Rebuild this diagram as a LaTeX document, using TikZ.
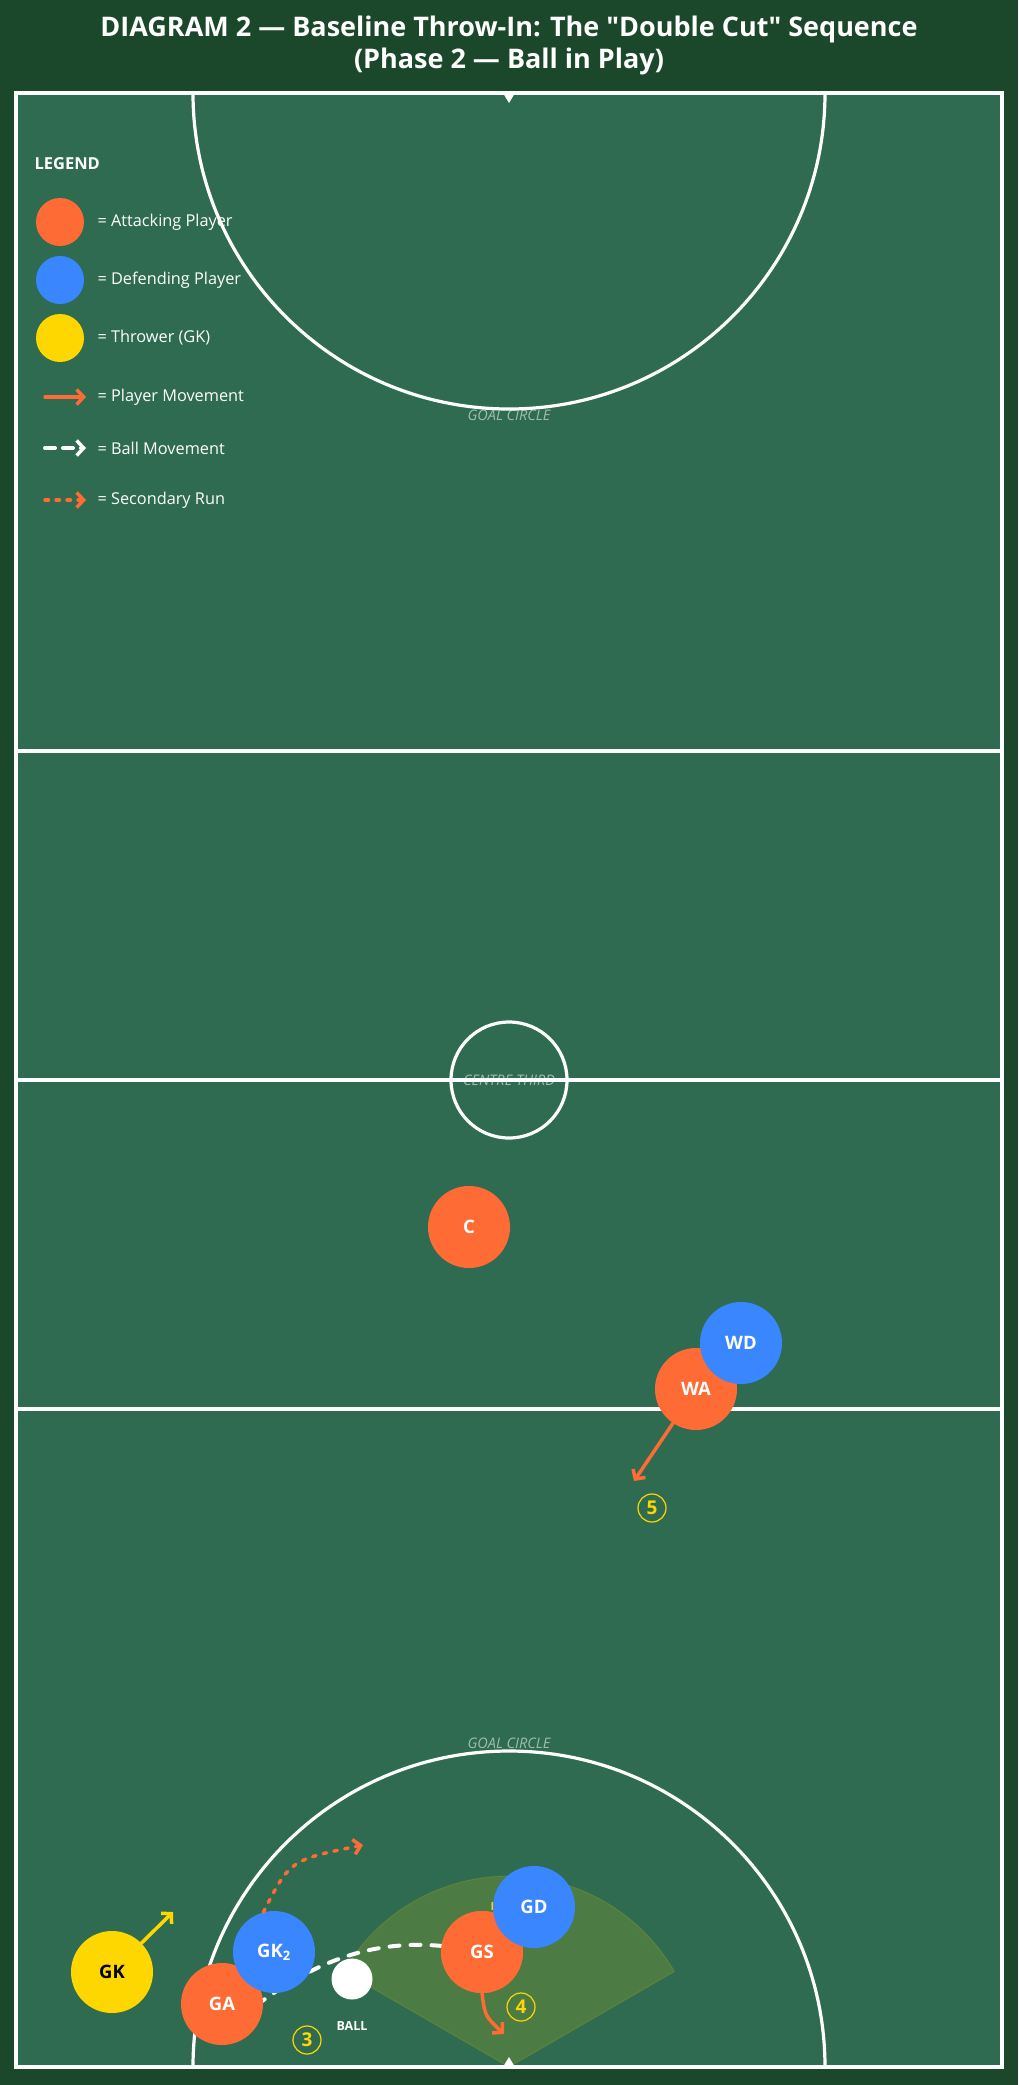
\documentclass[tikz,border=0pt]{standalone}
\usepackage{fontspec}
\setmainfont{Open Sans}
\usetikzlibrary{arrows.meta}
\definecolor{bgdark}{HTML}{1B472B}
\definecolor{court}{HTML}{2E6B51}
\definecolor{attack}{HTML}{FF6B35}
\definecolor{defend}{HTML}{3A86FF}
\definecolor{thrower}{HTML}{FFD700}
\begin{document}
\begin{tikzpicture}[x=1pt,y=-1pt,
  player/.style={circle,minimum size=82pt,inner sep=0pt,font=\fontsize{18.5}{22}\selectfont\bfseries,text=white},
  att/.style={player,fill=attack},
  def/.style={player,fill=defend},
  thr/.style={player,fill=thrower,text=black},
  legdot/.style={circle,minimum size=48pt,inner sep=0pt},
  legtext/.style={anchor=west,text=white,font=\fontsize{16.3}{19}\selectfont},
  courtline/.style={white,line width=3.2pt},
  zonelabel/.style={text=white,text opacity=0.55,font=\fontsize{14.5}{17}\selectfont\itshape},
  barb/.style={-{Straight Barb[length=7pt,width=15pt,line width=3.5pt]}},
  pmove/.style={attack,line width=3.5pt,line cap=round,barb},
  ymove/.style={thrower,line width=3.5pt,line cap=round,barb},
  bmove/.style={white,line width=4pt,line cap=round,dash pattern=on 10pt off 11pt},
  srun/.style={attack,line width=3.5pt,line cap=round,dash pattern=on 3.5pt off 7.5pt,barb},
  numcirc/.style={circle,draw=thrower,line width=1.2pt,minimum size=28pt,inner sep=0pt,text=thrower,font=\fontsize{19}{22}\selectfont\bfseries},
]
% background
\fill[bgdark] (0,0) rectangle (1018,2085);
\useasboundingbox (0,0) rectangle (1018,2085);
\node[text=white,align=center,font=\fontsize{27}{32}\selectfont\bfseries] (title) at (509,45)
  {DIAGRAM 2 — Baseline Throw-In: The \textquotedbl Double Cut\textquotedbl{} Sequence\\(Phase 2 — Ball in Play)};
% court
\fill[court] (16,93) rectangle (1002,2067);
% pass zone sector
\fill[thrower,fill opacity=0.15] (509,2067) -- +(150:191pt) arc[start angle=150,end angle=30,radius=191pt] -- cycle;
\draw[thrower,opacity=0.12,line width=1.2pt] (509,2067) -- +(150:191pt) arc[start angle=150,end angle=30,radius=191pt] -- cycle;
\node[zonelabel] (ct) at (509,1080) {CENTRE THIRD};
\draw[courtline] (16,93) rectangle (1002,2067);
\draw[courtline] (16,751) -- (1002,751);
\draw[courtline] (16,1080) -- (1002,1080);
\draw[courtline] (16,1409) -- (1002,1409);
\draw[courtline] (509,1080) circle[radius=58pt];
\draw[courtline] (193,93) arc[start angle=180,end angle=360,radius=316pt];
\draw[courtline] (193,2067) arc[start angle=180,end angle=0,radius=316pt];
\fill[white] (503,93) -- (515,93) -- (509,103) -- cycle;
\fill[white] (503,2067) -- (515,2067) -- (509,2057) -- cycle;
\node[zonelabel] (gc1) at (509,415) {GOAL CIRCLE};
\node[zonelabel] (gc2) at (509,1743) {GOAL CIRCLE};
\node[anchor=west,text=thrower,font=\fontsize{11}{13}\selectfont\bfseries] (pz) at (487,1907) {F};
% legend
\node[anchor=west,text=white,font=\fontsize{16.5}{19}\selectfont\bfseries] (leg) at (31,164) {LEGEND};
\node[legdot,fill=attack] (l1) at (60,222) {};
\node[legtext] (t1) at (94,222) {= Attacking Player};
\node[legdot,fill=defend] (l2) at (60,280) {};
\node[legtext] (t2) at (94,280) {= Defending Player};
\node[legdot,fill=thrower] (l3) at (60,338) {};
\node[legtext] (t3) at (94,338) {= Thrower (GK)};
\coordinate (a1) at (45,397); \coordinate (a2) at (86,397);
\draw[pmove] (a1) -- (a2);
\node[legtext] (t4) at (94,397) {= Player Movement};
\coordinate (b1) at (45,448); \coordinate (b2) at (86,448);
\draw[white,line width=4pt,line cap=round,dash pattern=on 10pt off 8pt,barb] (b1) -- (b2);
\node[legtext] (t5) at (94,448) {= Ball Movement};
\coordinate (c1) at (45,500); \coordinate (c2) at (86,500);
\draw[srun] (c1) -- (c2);
\node[legtext] (t6) at (94,500) {= Secondary Run};
% ball path (behind players)
\coordinate (bstart) at (240,2018);
\node[att] (GS) at (482,1952) {GS};
\draw[bmove] (bstart) .. controls (330,1945) and (400,1935) .. (GS.center);
% players
\node[att] (C) at (469,1227) {C};
\node[att] (WA) at (696,1389) {WA};
\node[def] (WD) at (741,1343) {WD};
\node[thr] (GK) at (112,1972) {GK};
\node[att] (GA) at (222,2004) {GA};
\node[def] (GKb) at (274,1952) {GK\textsubscript{2}};
\node[att] at (482,1952) {GS};
\node[def] (GD) at (534,1907) {GD};
\node[circle,fill=white,minimum size=41pt,inner sep=0pt] (ball) at (352,1979) {};
\node[text=white,font=\fontsize{12.5}{14}\selectfont\bfseries] (balllbl) at (352,2026) {BALL};
% movements
\coordinate (wamove) at (634,1481);
\draw[pmove] (WA) -- (wamove);
\coordinate (gkmove) at (173,1912);
\draw[ymove] (GK) -- (gkmove);
\coordinate (gsmove) at (504,2034);
\draw[pmove] (GS.south) .. controls (485,2016) .. (gsmove);
\coordinate (srend) at (363,1845);
\draw[srun] (GKb.105) .. controls (290,1860) .. (srend);
% numbers
\node[numcirc] (n3) at (307,2040) {3};
\node[numcirc] (n4) at (521,2007) {4};
\node[numcirc] (n5) at (652,1508) {5};
\end{tikzpicture}
\end{document}
